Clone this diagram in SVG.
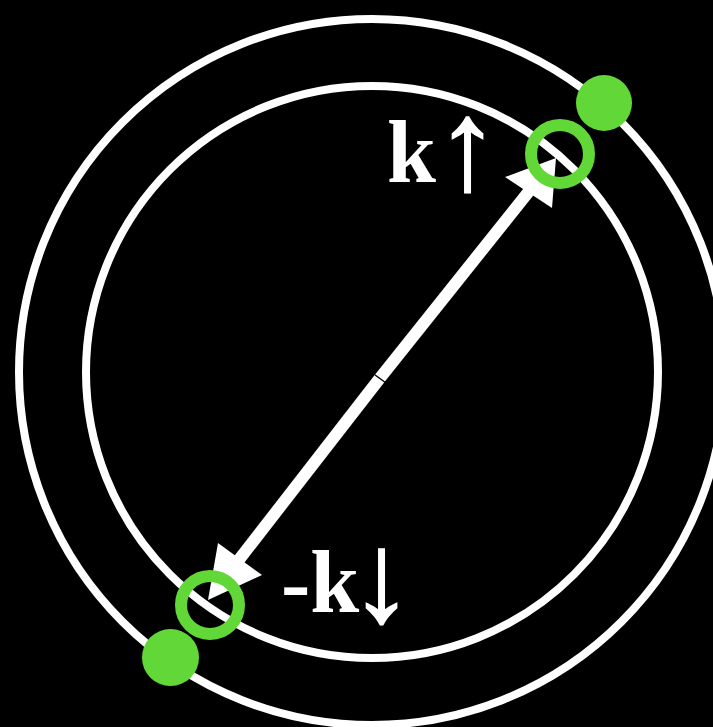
<svg xmlns="http://www.w3.org/2000/svg" width="713" height="727" viewBox="0 0 713 727">
<style>
.ring{fill:none;stroke:#fff;stroke-width:8}
.shaft{stroke:#fff;stroke-width:12;fill:none}
.head{fill:#fff}
.open{fill:none;stroke:#62d838;stroke-width:12}
.dot{fill:#62d838}
.lbl{font-family:"Liberation Serif","Times New Roman",serif;font-weight:bold;font-size:88px;fill:#fff}
.arr{font-size:128px;text-anchor:middle;stroke:#fff;stroke-width:1.6}
</style>
<rect width="713" height="727" fill="#000"/>
<g id="outer-circle"><circle class="ring" cx="372" cy="372" r="353"/></g>
<g id="inner-circle"><circle class="ring" cx="372" cy="372" r="286"/></g>
<g id="connectors">
<line class="shaft" x1="380" y1="378" x2="530" y2="190"/>
<polygon class="head" points="556,158 505,177 552,208"/>
<line class="shaft" x1="380" y1="378" x2="238" y2="561"/>
<polygon class="head" points="208,600 218,543 262,575"/>
<line x1="375" y1="375" x2="386" y2="383" stroke="#000" stroke-width="1.2"/>
</g>
<g id="k-up"><circle class="open" cx="560" cy="154" r="29"/><circle class="dot" cx="604" cy="103" r="28"/></g>
<g id="k-down"><circle class="open" cx="210" cy="605" r="29"/><circle class="dot" cx="170.5" cy="657.5" r="28.5"/></g>
<g id="label-k"><text class="lbl" x="387" y="182">k<tspan class="arr" x="467.7" y="189">↑</tspan></text></g>
<g id="label-mk"><text class="lbl" x="281" y="612">-k<tspan class="arr" x="381.7" y="621">↓</tspan></text></g>
</svg>
